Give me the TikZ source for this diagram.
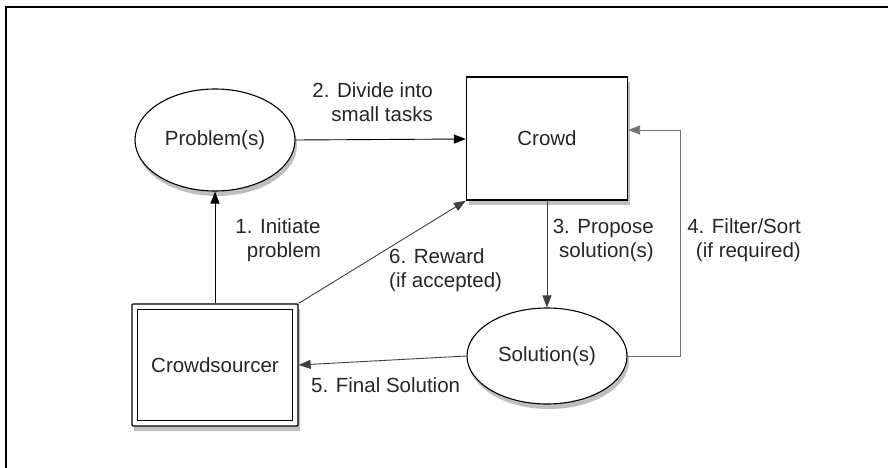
\documentclass[tikz,border=0pt]{standalone}
\usepackage{fontspec}
\setmainfont{Liberation Sans}
\usetikzlibrary{shapes.geometric,shadows,arrows.meta,calc}
\begin{document}
\begin{tikzpicture}[x=1pt,y=-1pt,
  lbl/.style={font=\fontsize{20.5}{24}\selectfont, text=black!85, inner sep=0pt},
  ell/.style={ellipse, draw=black, line width=1.1pt, fill=white, minimum width=160pt, minimum height=100pt, inner sep=0pt, drop shadow={shadow xshift=2pt, shadow yshift=-5pt, opacity=0.5}},
  box/.style={rectangle, draw=black, line width=1.3pt, fill=white, inner sep=0pt, drop shadow={shadow xshift=2pt, shadow yshift=-5pt, opacity=0.5}},
  arr/.style={-{Triangle[length=12pt,width=9pt]}, line width=0.9pt}
]
\useasboundingbox (0,0) rectangle (888,468);
\draw[line width=1.2pt] (6,468) -- (6,7) -- (888,7);

\node[ell, minimum width=160pt, minimum height=102pt] (prob) at (215,140) {};
\node[lbl] at (prob.center) {Problem(s)};

\node[box, minimum width=161pt, minimum height=123pt] (crowd) at (547,138.5) {};
\node[lbl] at (crowd.center) {Crowd};

\node[ell, minimum width=160pt, minimum height=96pt] (sol) at (547,356) {};
\node[lbl] at (sol.center) {Solution(s)};

\node[box, minimum width=166pt, minimum height=122pt, rounded corners=1pt] (cs) at (215,365) {};
\draw[line width=1.3pt] ($(cs.south west)+(6,-6)$) rectangle ($(cs.north east)+(-6,6)$);
\node[lbl] at (cs.center) {Crowdsourcer};

\draw[arr] (prob.east) -- (crowd.west |- 0,139) coordinate (c2);
\draw[arr] (cs.north -| prob.south) -- (prob.south);
\draw[arr, draw=black!75] (cs.north east) -- (crowd.south west);
\draw[arr, draw=black!75] (crowd.south) -- (sol.north);
\draw[arr, draw=black!55] (sol.east) -- (680,356) -- (680,130) -- (crowd.east |- 0,130);
\draw[arr, draw=black!75] (sol.west) -- (cs.east);

\node[lbl, align=right, anchor=east] (l2) at (433,102) {2. Divide into\\small tasks};
\node[lbl, align=center] (l1) at (278,240) {1. Initiate\\\hspace*{12pt}problem};
\node[lbl, align=left, anchor=west] (l6) at (389,270) {6. Reward\\(if accepted)};
\node[lbl, align=right, anchor=east] (l3) at (654,240) {3. Propose\\solution(s)};
\node[lbl, align=right, anchor=east] (l4) at (801,240) {4. Filter/Sort\\(if required)};
\node[lbl, anchor=west] (l5) at (311,385) {5. Final Solution};
\end{tikzpicture}
\end{document}
